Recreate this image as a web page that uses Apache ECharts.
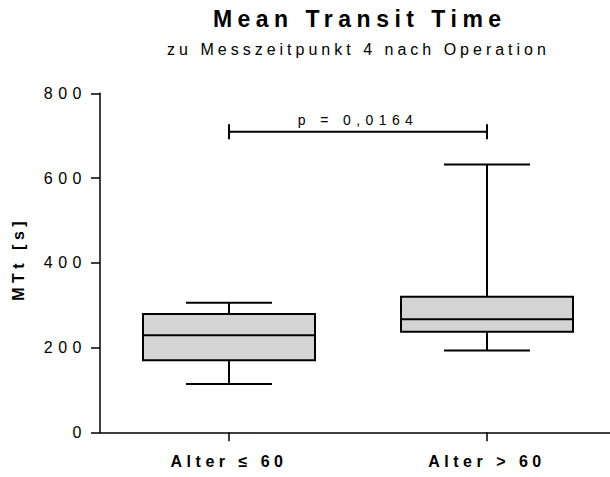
<!DOCTYPE html>
<html>
<head>
<meta charset="utf-8">
<script src="https://cdn.jsdelivr.net/npm/echarts@6/dist/echarts.min.js"></script>
<style>
  html, body { margin: 0; padding: 0; background: #fff; }
  #chart { width: 610px; height: 477px; }
  #chart text[style*="sptitle"] { letter-spacing: 5.5px; }
  #chart text[style*="spsub"] { letter-spacing: 4px; }
  #chart text[style*="spytick"] { letter-spacing: 5.5px; }
  #chart text[style*="spxlab"] { letter-spacing: 4.5px; }
  #chart text[style*="spyname"] { letter-spacing: 4.5px; }
  #chart text[style*="spp"] { letter-spacing: 5.4px; }
</style>
</head>
<body>
<div id="chart"></div>
<script>
// ---- data ----
const titleText = 'Mean Transit Time';
const subtitleText = 'zu Messzeitpunkt 4 nach Operation';
const yAxisName = 'MTt [s]';
const categories = ['Alter ≤ 60', 'Alter > 60'];
const whiskerLow = [114, 193];
const q1 = [170, 237];
const median = [229, 267];
const q3 = [279, 320];
const whiskerHigh = [306, 632];
const yMin = 0;
const yMax = 800;
const yInterval = 200;
const pValueText = 'p = 0,0164';
const bracketFrom = 0;
const bracketTo = 1;
const bracketValue = 709;

// ---- chart ----
const FAM = 'Liberation Sans';
const chart = echarts.init(document.getElementById('chart'), null, { renderer: 'svg' });

const boxData = categories.map((c, i) => [i, whiskerLow[i], q1[i], median[i], q3[i], whiskerHigh[i]]);

const option = {
  animation: false,
  backgroundColor: '#fff',
  graphic: [
    { type: 'text', x: 359.75, y: 7, style: { text: titleText, align: 'center', verticalAlign: 'top',
      fontSize: 23, fontWeight: 'bold', fontFamily: FAM + ', sptitle', fill: '#000' } },
    { type: 'text', x: 358.5, y: 41.5, style: { text: subtitleText, align: 'center', verticalAlign: 'top',
      fontSize: 16, fontFamily: FAM + ', spsub', fill: '#000' } }
  ],
  grid: { left: 100, width: 516, top: 93.3, bottom: 44.7, containLabel: false, outerBoundsMode: 'none' },
  xAxis: {
    type: 'category',
    data: categories,
    boundaryGap: true,
    axisLine: { show: true, lineStyle: { color: '#000', width: 1.5 } },
    axisTick: { show: true, alignWithLabel: true, length: 9, lineStyle: { color: '#000', width: 1.5 } },
    axisLabel: { margin: 21, fontSize: 16, fontWeight: 'bold', fontFamily: FAM + ', spxlab', color: '#000' },
    splitLine: { show: false }
  },
  yAxis: {
    type: 'value',
    min: yMin, max: yMax, interval: yInterval,
    name: yAxisName,
    nameLocation: 'middle',
    nameRotate: 90,
    nameGap: 74,
    nameTextStyle: { fontSize: 16, fontWeight: 'bold', fontFamily: FAM + ', spyname', color: '#000',
      padding: [0, 0, 0, 8] },
    axisLine: { show: true, lineStyle: { color: '#000', width: 1.5 } },
    axisTick: { show: true, length: 9, lineStyle: { color: '#000', width: 1.5 } },
    axisLabel: { margin: 13, fontSize: 16, fontFamily: FAM + ', spytick', color: '#000' },
    splitLine: { show: false }
  },
  series: [
    {
      type: 'custom',
      name: 'box',
      data: boxData,
      encode: { x: 0, y: [1, 2, 3, 4, 5] },
      renderItem: function (params, api) {
        const i = api.value(0);
        const band = api.size([1, 0])[0];
        const bw = band * 2 / 3;
        const cw = band / 3;
        const xc = api.coord([i, 0])[0];
        const yLo = api.coord([i, api.value(1)])[1];
        const yQ1 = api.coord([i, api.value(2)])[1];
        const yMed = api.coord([i, api.value(3)])[1];
        const yQ3 = api.coord([i, api.value(4)])[1];
        const yHi = api.coord([i, api.value(5)])[1];
        const ls = { stroke: '#000', lineWidth: 2 };
        return {
          type: 'group',
          children: [
            { type: 'line', shape: { x1: xc, y1: yQ1, x2: xc, y2: yLo }, style: ls },
            { type: 'line', shape: { x1: xc, y1: yQ3, x2: xc, y2: yHi }, style: ls },
            { type: 'line', shape: { x1: xc - cw / 2, y1: yLo, x2: xc + cw / 2, y2: yLo }, style: ls },
            { type: 'line', shape: { x1: xc - cw / 2, y1: yHi, x2: xc + cw / 2, y2: yHi }, style: ls },
            { type: 'rect', shape: { x: xc - bw / 2, y: yQ3, width: bw, height: yQ1 - yQ3 },
              style: { fill: '#d4d4d4', stroke: '#000', lineWidth: 2 } },
            { type: 'line', shape: { x1: xc - bw / 2, y1: yMed, x2: xc + bw / 2, y2: yMed }, style: ls }
          ]
        };
      }
    },
    {
      type: 'custom',
      name: 'significance',
      data: [[bracketFrom, bracketTo, bracketValue]],
      encode: { x: [0, 1], y: 2 },
      renderItem: function (params, api) {
        const p0 = api.coord([api.value(0), api.value(2)]);
        const p1 = api.coord([api.value(1), api.value(2)]);
        const ls = { stroke: '#000', lineWidth: 2 };
        return {
          type: 'group',
          children: [
            { type: 'line', shape: { x1: p0[0], y1: p0[1], x2: p1[0], y2: p1[1] }, style: ls },
            { type: 'line', shape: { x1: p0[0], y1: p0[1] - 7.5, x2: p0[0], y2: p0[1] + 7.5 }, style: ls },
            { type: 'line', shape: { x1: p1[0], y1: p1[1] - 7.5, x2: p1[0], y2: p1[1] + 7.5 }, style: ls },
            { type: 'text', x: (p0[0] + p1[0]) / 2, y: p0[1] - 4.5,
              style: { text: pValueText, align: 'center', verticalAlign: 'bottom',
                fontSize: 14, fontFamily: FAM + ', spp', fill: '#000' } }
          ]
        };
      }
    }
  ]
};
chart.setOption(option);
</script>
</body>
</html>
